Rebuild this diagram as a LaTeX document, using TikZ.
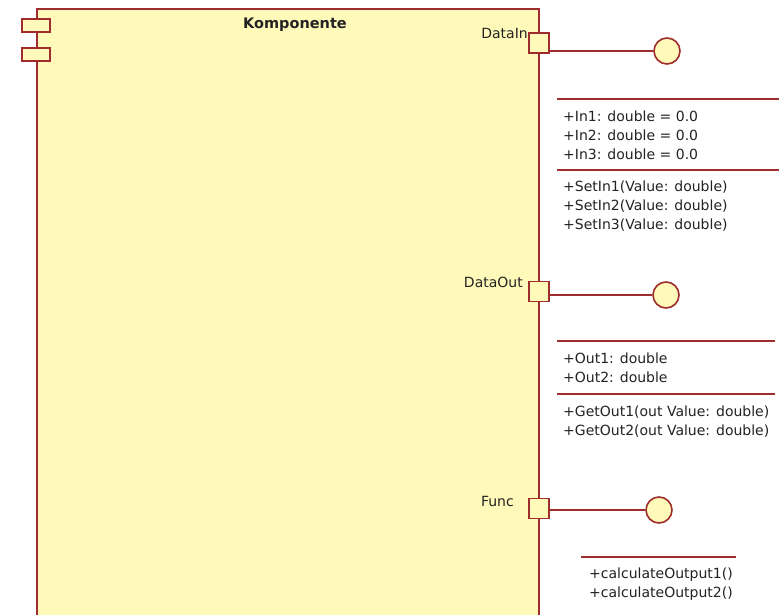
\documentclass[tikz,border=0pt]{standalone}
\usepackage{fontspec}
\setmainfont{DejaVu Sans}
\definecolor{umlborder}{RGB}{160,45,45}
\definecolor{umlfill}{RGB}{255,250,185}
\definecolor{umltext}{RGB}{35,35,35}
\begin{document}
\begin{tikzpicture}[x=1pt,y=-1pt,
  every node/.style={font=\fontsize{14}{19}\selectfont, text=umltext},
  compbox/.style={draw=umlborder, fill=umlfill, line width=1.6pt, inner sep=0pt, anchor=north west},
  tabbox/.style={draw=umlborder, fill=umlfill, line width=1.6pt, minimum width=28pt, minimum height=13pt, inner sep=0pt},
  portbox/.style={draw=umlborder, fill=umlfill, line width=1.6pt, minimum width=20pt, minimum height=20pt, inner sep=0pt},
  iface/.style={circle, draw=umlborder, fill=umlfill, line width=1.6pt, minimum size=26pt, inner sep=0pt},
  conn/.style={draw=umlborder, line width=1.6pt},
  sep/.style={draw=umlborder, line width=1.3pt},
  plabel/.style={anchor=east, inner sep=0pt},
  members/.style={anchor=north west, align=left, inner sep=0pt}
]
\useasboundingbox (0,0) rectangle (781,615);
\clip (0,0) rectangle (781,615);
\fill[white] (0,0) rectangle (781,615);

% component
\node[compbox, minimum width=502pt, minimum height=640pt] (comp) at (36,8) {};
\node[tabbox] (tab1) at (36,25.5) {};
\node[tabbox] (tab2) at (36,54.5) {};
\node[font=\fontsize{14.5}{19}\selectfont\bfseries, anchor=base, inner sep=0pt] (title) at (295,28.5) {Komponente};

% ports
\node[portbox] (pin) at (539,43) {};
\node[portbox] (pout) at (539,291.5) {};
\node[portbox] (pfunc) at (539,508.5) {};

\node[plabel] (lin) at (528,33) {DataIn};
\node[plabel] (lout) at (523,282) {DataOut};
\node[plabel] (lfunc) at (514,501) {Func};

% interfaces
\node[iface] (iin) at (667,51) {};
\node[iface] (iout) at (666,295) {};
\node[iface] (ifunc) at (659,510) {};

\draw[conn] (pin.east |- iin.west) -- (iin.west);
\draw[conn] (pout.east |- iout.west) -- (iout.west);
\draw[conn] (pfunc.east |- ifunc.west) -- (ifunc.west);

% DataIn members
\coordinate (s1a) at (557,99);
\coordinate (s1b) at (779,99);
\coordinate (s2a) at (557,170);
\coordinate (s2b) at (779,170);
\draw[sep] (s1a) -- (s1b);
\draw[sep] (s2a) -- (s2b);
\node[members] (inattr) at (563,110.5) {+In1: double = 0.0\\+In2: double = 0.0\\+In3: double = 0.0};
\node[members] (inops) at (563,180.5) {+SetIn1(Value: double)\\+SetIn2(Value: double)\\+SetIn3(Value: double)};

% DataOut members
\coordinate (s3a) at (557,341);
\coordinate (s3b) at (775,341);
\coordinate (s4a) at (557,394);
\coordinate (s4b) at (775,394);
\draw[sep] (s3a) -- (s3b);
\draw[sep] (s4a) -- (s4b);
\node[members] (outattr) at (563,353) {+Out1: double\\+Out2: double};
\node[members] (outops) at (563,405.5) {+GetOut1(out Value: double)\\+GetOut2(out Value: double)};

% Func members
\coordinate (s5a) at (581,557);
\coordinate (s5b) at (736,557);
\draw[sep] (s5a) -- (s5b);
\node[members] (funcops) at (589,567.5) {+calculateOutput1()\\+calculateOutput2()};
\end{tikzpicture}
\end{document}
